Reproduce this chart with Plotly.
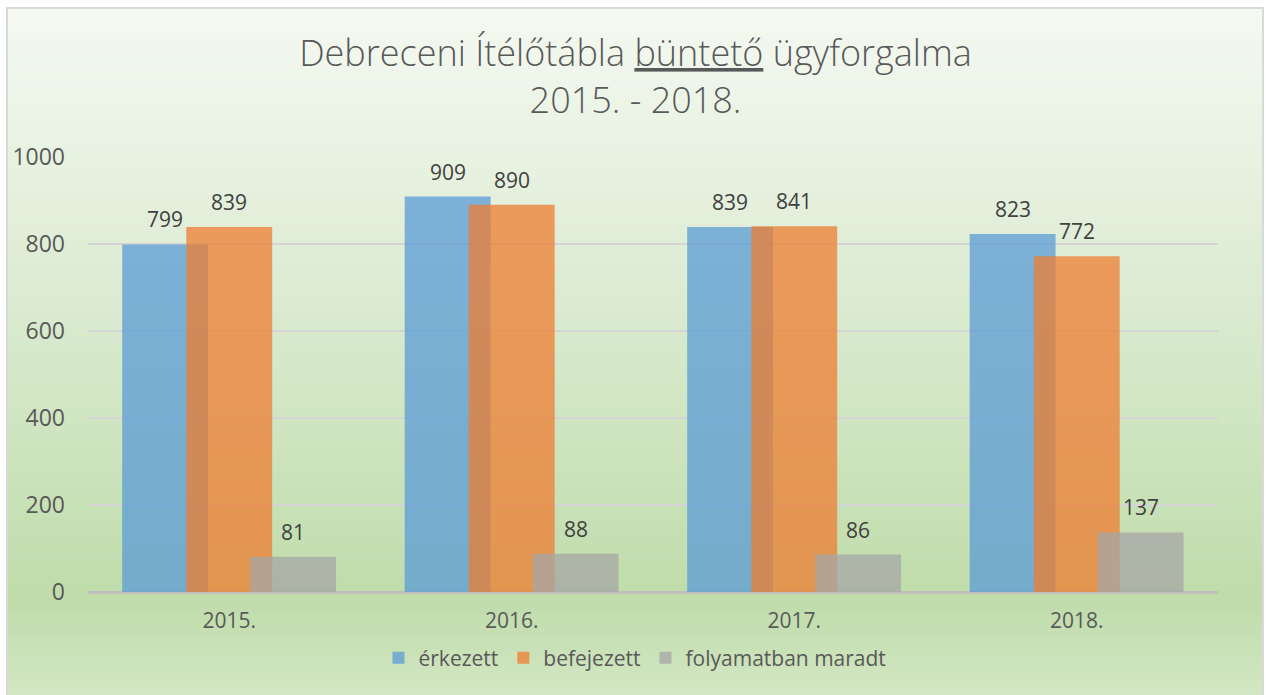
import plotly.graph_objects as go

# ---------- data ----------
years = ["2015.", "2016.", "2017.", "2018."]
erkezett = [799, 909, 839, 823]
befejezett = [839, 890, 841, 772]
folyamatban = [81, 88, 86, 137]

series_names = ["érkezett", "befejezett", "folyamatban maradt"]
colors = ["rgba(91,155,213,0.75)", "rgba(237,125,49,0.75)", "rgba(165,165,165,0.75)"]

FONT = "Open Sans"
W, H = 1271, 695
L, R, T, B = 88, 53, 157, 103
PW, PH = W - L - R, H - T - B


def px_x(x):
    return (x - L) / PW


def px_y(y):
    return (H - B - y) / PH


xpos = list(range(len(years)))
fig = go.Figure()
bar_width = 0.304
offsets = [-0.379, -0.152, 0.074]
annotations = []
for name, vals, col, off in zip(series_names, [erkezett, befejezett, folyamatban], colors, offsets):
    fig.add_trace(
        go.Bar(
            x=xpos,
            y=vals,
            name=name,
            width=bar_width,
            offset=off,
            marker=dict(color=col, line=dict(width=0)),
        )
    )
    # data labels
    for xi, v in zip(xpos, vals):
        annotations.append(dict(
            x=xi + off + bar_width / 2, y=v, xref="x", yref="y",
            text=str(v), showarrow=False, yanchor="bottom", yshift=9,
            font=dict(family=FONT, size=21, color="#404040"),
        ))

# ---------- background gradient (chart area) ----------
stops = [(8, (245, 249, 242)), (300, (219, 235, 209)), (600, (191, 220, 170)), (700, (212, 231, 197))]


def grad_color(y):
    for (y0, c0), (y1, c1) in zip(stops[:-1], stops[1:]):
        if y0 <= y <= y1:
            t = (y - y0) / (y1 - y0)
            return "rgb(%d,%d,%d)" % tuple(round(a + (b - a) * t) for a, b in zip(c0, c1))
    return "rgb(%d,%d,%d)" % stops[-1][1]


shapes = []
step = 6
for y in range(8, 700, step):
    shapes.append(dict(
        type="rect", xref="paper", yref="paper", layer="below",
        x0=px_x(8), x1=px_x(1262), y0=px_y(y + step), y1=px_y(y),
        fillcolor=grad_color(y + step / 2), line=dict(width=0),
    ))
# border
shapes.append(dict(
    type="path", xref="paper", yref="paper", layer="below",
    path="M %f,%f L %f,%f L %f,%f L %f,%f" % (
        px_x(7), px_y(700), px_x(7), px_y(8), px_x(1263), px_y(8), px_x(1263), px_y(700)),
    line=dict(color="#D9D9D9", width=2),
))

fig.update_layout(
    width=W, height=H,
    margin=dict(l=L, r=R, t=T, b=B),
    paper_bgcolor="white",
    plot_bgcolor="rgba(0,0,0,0)",
    barmode="overlay",
    shapes=shapes,
    annotations=annotations,
    title=dict(
        text="Debreceni Ítélőtábla <u>büntető</u> ügyforgalma<br>2015. - 2018.",
        x=0.5, xanchor="center", y=1 - 66 / H, yanchor="middle",
        font=dict(family=FONT, size=36, color="#595959", weight=300),
    ),
    font=dict(family=FONT, color="#595959"),
    showlegend=True,
    legend=dict(
        orientation="h", x=px_x(635), xanchor="center", y=px_y(658), yanchor="middle",
        font=dict(family=FONT, size=21, color="#595959"),
        bgcolor="rgba(0,0,0,0)",
    ),
    xaxis=dict(
        range=[-0.5, len(years) - 0.5],
        tickvals=xpos, ticktext=years,
        showgrid=False, showline=False, zeroline=False, ticks="",
        tickfont=dict(family=FONT, size=21, color="#595959"),
        ticklabelstandoff=14,
    ),
    yaxis=dict(
        range=[0, 1000], tickvals=[0, 200, 400, 600, 800, 1000],
        showgrid=True, gridcolor="#D4D4D4", gridwidth=1.5,
        zeroline=True, zerolinecolor="#BFBFBF", zerolinewidth=2.5,
        showline=False, ticks="",
        tickfont=dict(family=FONT, size=23, color="#595959"),
        ticklabelstandoff=22,
    ),
)

fig.write_html("out.html", config={"displayModeBar": False},
               post_script="document.body.style.margin='0px';")
